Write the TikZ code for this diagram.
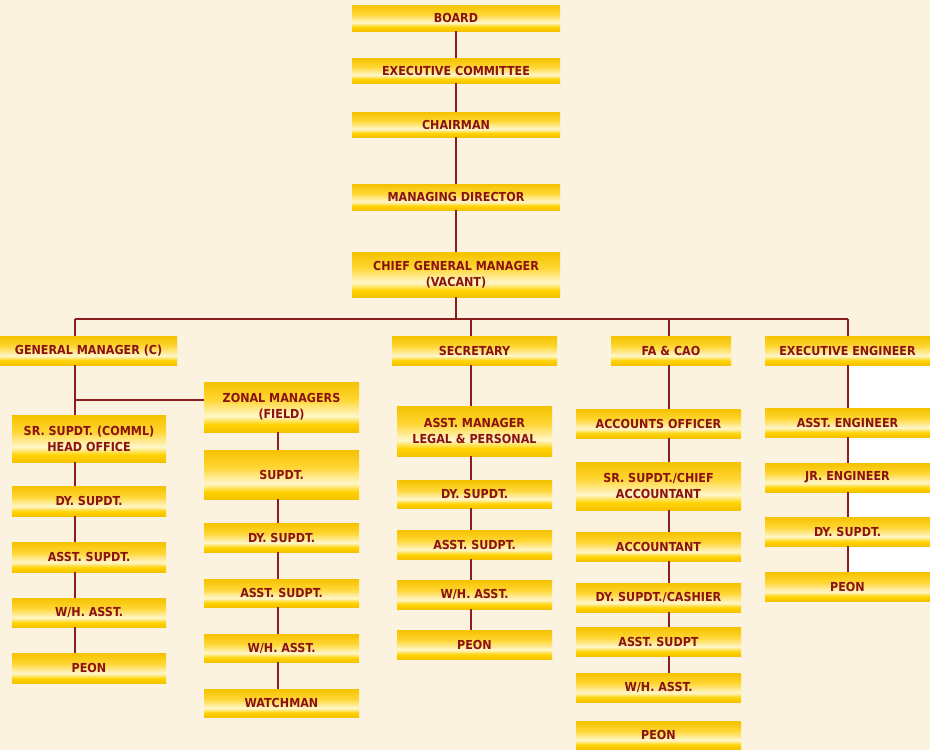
\documentclass[tikz,border=0pt]{standalone}
\usepackage{fontspec}
\setmainfont{DejaVu Sans Condensed}
\definecolor{bgc}{HTML}{FBF2DF}
\definecolor{txt}{HTML}{8A1212}
\definecolor{linec}{HTML}{8B1E1E}
\definecolor{gA}{HTML}{F5C200}
\definecolor{gB}{HTML}{FFD633}
\definecolor{gW}{HTML}{FFF7CC}
\definecolor{gC}{HTML}{FFD200}
\pgfdeclareverticalshading{goldbar}{100bp}{color(0bp)=(gA); color(25bp)=(gA); color(32.5bp)=(gC); color(41bp)=(gW); color(57.5bp)=(gB); color(75bp)=(gA); color(100bp)=(gA)}
\tikzset{
  orgbox/.style={rectangle, shade, shading=goldbar, inner sep=0pt, align=center,
    font=\bfseries\fontsize{12.4}{16}\selectfont, text=txt},
  conn/.style={draw=linec, line width=1.3pt}
}
\newcommand{\ob}[6]{\node[orgbox, minimum width={(#4)-(#2)}, minimum height={(#5)-(#3)}] (#1) at ({((#2)+(#4))/2},{((#3)+(#5))/2}) {#6};}
\begin{document}
\begin{tikzpicture}[x=1pt,y=-1pt]
\fill[bgc] (0,0) rectangle (930,750);
\useasboundingbox (0,0) rectangle (930,750);
\fill[white] (849,366) rectangle (930,573);
% column coordinates
\coordinate (cG) at (75,0);
\coordinate (cZ) at (278,0);
\coordinate (cS) at (471,0);
\coordinate (cF) at (669,0);
\coordinate (cE) at (848,0);
\coordinate (busL) at (75,319);
\coordinate (busR) at (848,319);
% top column
\ob{board}{352}{5}{560}{31}{BOARD}
\ob{exec}{352}{58}{560}{83}{EXECUTIVE COMMITTEE}
\ob{chair}{352}{112}{560}{137}{CHAIRMAN}
\ob{md}{352}{184}{560}{210}{MANAGING DIRECTOR}
\ob{cgm}{352}{252}{560}{297}{CHIEF GENERAL MANAGER\\(VACANT)}
% second level
\ob{gm}{0}{336}{177}{365}{GENERAL MANAGER (C)}
\ob{sec}{392}{336}{557}{365}{SECRETARY}
\ob{fa}{611}{336}{731}{365}{FA \& CAO}
\ob{ee}{765}{336}{930}{365}{EXECUTIVE ENGINEER}
% GM column
\ob{zm}{204}{382}{359}{432}{ZONAL MANAGERS\\(FIELD)}
\ob{sr}{12}{415}{166}{462}{SR. SUPDT. (COMML)\\HEAD OFFICE}
\ob{gdy}{12}{486}{166}{516}{DY. SUPDT.}
\ob{gasst}{12}{542}{166}{572}{ASST. SUPDT.}
\ob{gwh}{12}{598}{166}{627}{W/H. ASST.}
\ob{gpeon}{12}{653}{166}{683}{PEON}
% zonal column
\ob{zs}{204}{450}{359}{499}{SUPDT.}
\ob{zdy}{204}{523}{359}{552}{DY. SUPDT.}
\ob{zasst}{204}{579}{359}{607}{ASST. SUDPT.}
\ob{zwh}{204}{634}{359}{662}{W/H. ASST.}
\ob{zwatch}{204}{689}{359}{717}{WATCHMAN}
% secretary column
\ob{am}{397}{406}{552}{456}{ASST. MANAGER\\LEGAL \& PERSONAL}
\ob{sdy}{397}{480}{552}{508}{DY. SUPDT.}
\ob{sasst}{397}{530}{552}{559}{ASST. SUDPT.}
\ob{swh}{397}{580}{552}{609}{W/H. ASST.}
\ob{speon}{397}{630}{552}{659}{PEON}
% FA column
\ob{ao}{576}{409}{741}{438}{ACCOUNTS OFFICER}
\ob{ssc}{576}{462}{741}{510}{SR. SUPDT./CHIEF\\ACCOUNTANT}
\ob{acc}{576}{532}{741}{561}{ACCOUNTANT}
\ob{cash}{576}{583}{741}{612}{DY. SUPDT./CASHIER}
\ob{fasst}{576}{627}{741}{656}{ASST. SUDPT}
\ob{fwh}{576}{673}{741}{702}{W/H. ASST.}
\ob{fpeon}{576}{721}{741}{749}{PEON}
% EE column
\ob{ae}{765}{408}{930}{437}{ASST. ENGINEER}
\ob{je}{765}{463}{930}{492}{JR. ENGINEER}
\ob{edy}{765}{517}{930}{546}{DY. SUPDT.}
\ob{epeon}{765}{572}{930}{601}{PEON}
% connectors
\foreach \a/\b in {board/exec,exec/chair,chair/md,md/cgm}
  \draw[conn] (\a.south) -- (\b.north);
\draw[conn] (cgm.south) -- (cgm.south |- busL);
\draw[conn] (busL) -- (busR);
\draw[conn] (busL) -- (gm.north -| busL);
\draw[conn] (busL -| cS) -- (sec.north -| cS);
\draw[conn] (busL -| cF) -- (fa.north -| cF);
\draw[conn] (busR) -- (ee.north -| busR);
\foreach \a/\b in {gm/sr,sr/gdy,gdy/gasst,gasst/gwh,gwh/gpeon}
  \draw[conn] (\a.south -| cG) -- (\b.north -| cG);
\draw[conn] ([yshift=7pt]zm.west) -- ([yshift=7pt]zm.west -| cG);
\foreach \a/\b in {zm/zs,zs/zdy,zdy/zasst,zasst/zwh,zwh/zwatch}
  \draw[conn] (\a.south -| cZ) -- (\b.north -| cZ);
\foreach \a/\b in {sec/am,am/sdy,sdy/sasst,sasst/swh,swh/speon}
  \draw[conn] (\a.south -| cS) -- (\b.north -| cS);
\foreach \a/\b in {fa/ao,ao/ssc,ssc/acc,acc/cash,cash/fasst,fasst/fwh}
  \draw[conn] (\a.south -| cF) -- (\b.north -| cF);
\foreach \a/\b in {ee/ae,ae/je,je/edy,edy/epeon}
  \draw[conn] (\a.south -| cE) -- (\b.north -| cE);
\end{tikzpicture}
\end{document}
